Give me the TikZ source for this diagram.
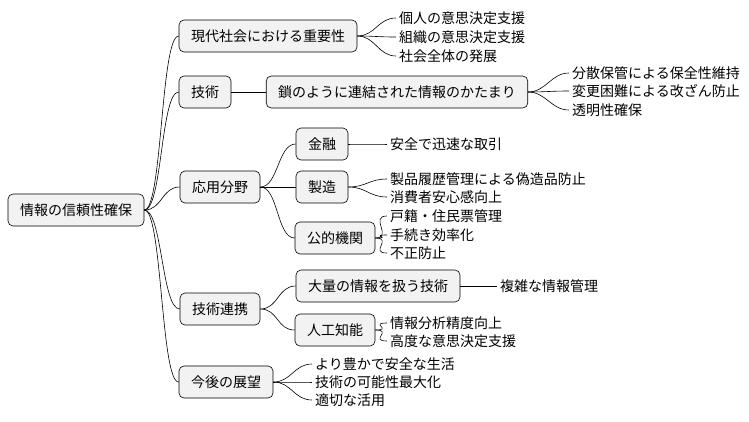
\documentclass[tikz,border=0pt]{standalone}
\usepackage{fontspec}
\setmainfont{Noto Sans CJK JP}
\tikzset{
  topic/.style = { draw, rounded corners=5pt, fill=gray!10, font=\fontsize{14}{16}\selectfont,
                   minimum height=32pt, inner xsep=12pt, line width=0.6pt },
   leaf/.style = { font=\fontsize{14}{16}\selectfont, anchor=west, inner xsep=3pt, inner ysep=0pt },
   link/.style = { line width=0.6pt }
}
\begin{document}
\begin{tikzpicture}[x=1pt,y=-1pt]
  \useasboundingbox (0,0) rectangle (749,421);
  % boxes
  \node[topic] (root) at (76,210) {情報の信頼性確保};
  \node[topic] (imp) at (268,36) {現代社会における重要性};
  \node[topic] (tech) at (205,92) {技術};
  \node[topic] (chain) at (397,92) {鎖のように連結された情報のかたまり};
  \node[topic] (app) at (220,187) {応用分野};
  \node[topic] (fin) at (322,144) {金融};
  \node[topic] (mfg) at (322,187) {製造};
  \node[topic] (pub) at (335,238) {公的機関};
  \node[topic] (coop) at (220,309) {技術連携};
  \node[topic] (big) at (378,286) {大量の情報を扱う技術};
  \node[topic] (ai) at (335,330) {人工知能};
  \node[topic] (fut) at (226,382) {今後の展望};
  % leaves
  \node[leaf] (imp1) at (396,18) {個人の意思決定支援};
  \node[leaf] (imp2) at (396,37) {組織の意思決定支援};
  \node[leaf] (imp3) at (396,56) {社会全体の発展};
  \node[leaf] (chain1) at (569,73) {分散保管による保全性維持};
  \node[leaf] (chain2) at (569,91) {変更困難による改ざん防止};
  \node[leaf] (chain3) at (569,110) {透明性確保};
  \node[leaf] (fin1) at (387,144) {安全で迅速な取引};
  \node[leaf] (mfg1) at (387,179) {製品履歴管理による偽造品防止};
  \node[leaf] (mfg2) at (387,197) {消費者安心感向上};
  \node[leaf] (pub1) at (387,216) {戸籍・住民票管理};
  \node[leaf] (pub2) at (387,235) {手続き効率化};
  \node[leaf] (pub3) at (387,253) {不正防止};
  \node[leaf] (big1) at (497,286) {複雑な情報管理};
  \node[leaf] (ai1) at (387,323) {情報分析精度向上};
  \node[leaf] (ai2) at (387,341) {高度な意思決定支援};
  \node[leaf] (fut1) at (312,364) {より豊かで安全な生活};
  \node[leaf] (fut2) at (312,382) {技術の可能性最大化};
  \node[leaf] (fut3) at (312,400) {適切な活用};

  \foreach \a/\b in {root/imp, root/tech, root/app, root/coop, root/fut,
                     imp/imp1, imp/imp2, imp/imp3, tech/chain,
                     chain/chain1, chain/chain2, chain/chain3,
                     app/fin, app/mfg, app/pub, fin/fin1, mfg/mfg1, mfg/mfg2,
                     pub/pub1, pub/pub2, pub/pub3, coop/big, coop/ai,
                     big/big1, ai/ai1, ai/ai2, fut/fut1, fut/fut2, fut/fut3}
    \draw[link] (\a.east) .. controls +(18,0) and +(-18,0) .. (\b.west);
\end{tikzpicture}
\end{document}
